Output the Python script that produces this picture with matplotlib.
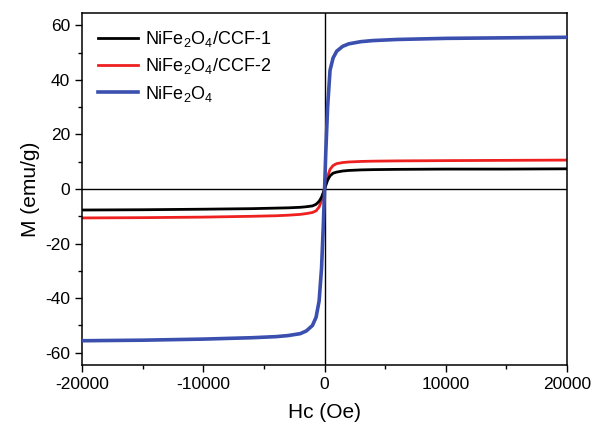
import numpy as np
import matplotlib
matplotlib.use("Agg")
import matplotlib.pyplot as plt
from matplotlib.ticker import MultipleLocator

plt.rcParams['font.family'] = ['Liberation Sans', 'DejaVu Sans']
plt.rcParams['mathtext.fontset'] = 'custom'
plt.rcParams['mathtext.rm'] = 'Liberation Sans'
plt.rcParams['axes.unicode_minus'] = False

# field values (Oe)
H = [-20000, -15000, -10000, -6000, -4000, -3000, -2000, -1500, -1000, -700,
     -450, -250, -100, 0, 100, 250, 450, 700, 1000, 1500, 2000, 3000, 4000,
     6000, 10000, 15000, 20000]

# magnetisation (emu/g)
M_ccf1 = [-7.7, -7.6, -7.4, -7.2, -7.0, -6.9, -6.7, -6.5, -6.2, -5.6,
          -4.5, -3.0, -1.2, 0.0, 1.3, 3.2, 4.8, 5.8, 6.2, 6.6, 6.8, 7.0, 7.1,
          7.2, 7.3, 7.3, 7.4]
M_ccf2 = [-10.6, -10.5, -10.3, -10.0, -9.8, -9.6, -9.3, -9.0, -8.6, -8.0,
          -6.6, -4.3, -1.7, 0.0, 1.9, 4.6, 7.2, 8.6, 9.3, 9.7, 9.9, 10.1, 10.2,
          10.3, 10.4, 10.5, 10.6]
M_nfo = [-55.6, -55.4, -55.0, -54.5, -54.1, -53.7, -53.0, -52.0, -50.0, -47.0,
         -41.0, -29.0, -13.0, 0.0, 13.5, 30.0, 43.5, 48.0, 50.5, 52.3, 53.2, 54.0, 54.4,
         54.8, 55.2, 55.4, 55.6]

fig = plt.figure(figsize=(5.95, 4.33), dpi=100)
ax = fig.add_axes([0.138, 0.157, 0.815, 0.813])

ax.axhline(0, color='black', lw=1.0, zorder=1)
ax.axvline(0, color='black', lw=1.0, zorder=1)

ax.plot(H, M_ccf1, color='black', lw=2.0, label='NiFe$_\\mathregular{2}$O$_\\mathregular{4}$/CCF-1', zorder=3)
ax.plot(H, M_ccf2, color='#ee2020', lw=2.0, label='NiFe$_\\mathregular{2}$O$_\\mathregular{4}$/CCF-2', zorder=2)
ax.plot(H, M_nfo, color='#3a4fae', lw=2.6, label='NiFe$_\\mathregular{2}$O$_\\mathregular{4}$', zorder=4)

ax.set_xlim(-20000, 20000)
ax.set_ylim(-64.5, 64.5)
ax.xaxis.set_major_locator(MultipleLocator(10000))
ax.xaxis.set_minor_locator(MultipleLocator(5000))
ax.yaxis.set_major_locator(MultipleLocator(20))
ax.yaxis.set_minor_locator(MultipleLocator(10))
ax.tick_params(which='both', direction='out', labelsize=12.5, width=1.0)
ax.tick_params(which='major', length=5)
ax.tick_params(which='minor', length=3)
for s in ax.spines.values():
    s.set_linewidth(1.1)

ax.set_xlabel('Hc (Oe)', fontsize=15, labelpad=8)
ax.set_ylabel('M (emu/g)', fontsize=15, labelpad=4)

ax.legend(loc='upper left', frameon=False, fontsize=13, handlelength=2.2,
          handletextpad=0.4, labelspacing=0.4, borderaxespad=0.5,
          bbox_to_anchor=(0.0, 1.0))

fig.savefig('out.png', dpi=100)
